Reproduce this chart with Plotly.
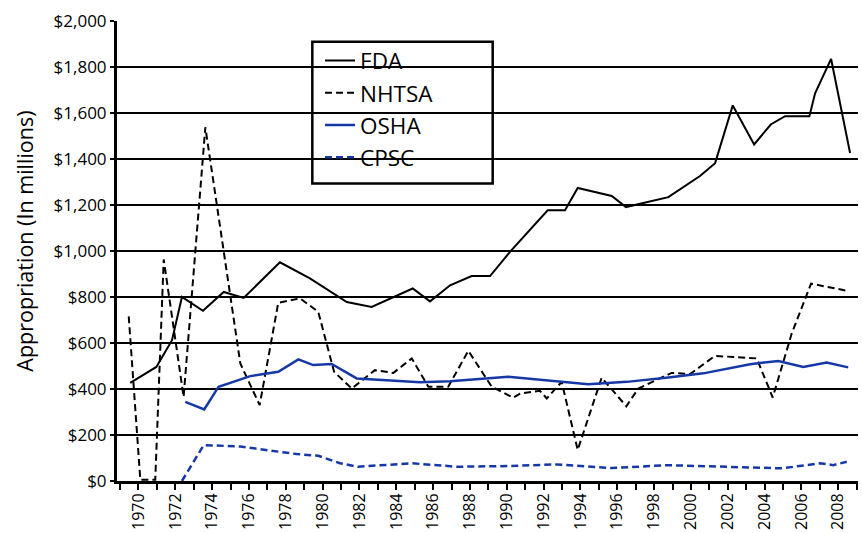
import plotly.graph_objects as go

# Data (x as fractional years, values in $ millions)
fda_x = [1969.55, 1970.97, 1971.82, 1972.36, 1973.50, 1974.63, 1975.71, 1977.68, 1979.31,
         1981.31, 1982.66, 1984.89, 1985.83, 1986.92, 1988.09, 1989.09, 1990.17, 1992.22,
         1993.16, 1993.85, 1995.70, 1996.47, 1998.77, 2000.49, 2001.31, 2002.27, 2003.43,
         2004.33, 2005.11, 2006.43, 2006.74, 2007.61, 2008.64]
fda_y = [427, 496, 612, 800, 740, 822, 796, 951, 881,
         778, 757, 837, 781, 851, 891, 891, 996, 1177,
         1177, 1274, 1239, 1191, 1234, 1326, 1382, 1633, 1463,
         1550, 1586, 1586, 1686, 1835, 1426]

nhtsa_x = [1969.47, 1970.10, 1970.91, 1971.37, 1972.45, 1973.63, 1975.53, 1976.58, 1977.59,
           1978.77, 1979.76, 1980.62, 1981.58, 1982.84, 1983.84, 1984.84, 1985.74, 1986.82,
           1987.91, 1989.18, 1990.35, 1990.72, 1991.80, 1992.17, 1992.98, 1993.85, 1995.15,
           1996.49, 1997.14, 1998.95, 1999.95, 2001.30, 2003.57, 2004.44, 2005.47, 2006.52,
           2008.54]
nhtsa_y = [716, 5, 5, 963, 366, 1538, 511, 330, 775,
           794, 736, 475, 402, 482, 470, 533, 410, 410,
           566, 410, 362, 380, 392, 359, 431, 135, 449,
           325, 402, 470, 465, 544, 533, 363, 641, 858,
           826]

osha_x = [1972.54, 1973.57, 1974.35, 1976.07, 1977.59, 1978.68, 1979.49, 1980.49, 1981.85,
          1985.29, 1986.92, 1990.08, 1994.42, 1996.51, 1998.77, 2000.67, 2003.21, 2004.74,
          2006.10, 2007.37, 2008.54]
osha_y = [344, 311, 410, 456, 475, 529, 504, 509, 446,
          429, 434, 453, 421, 431, 450, 468, 508, 522,
          496, 515, 494]

cpsc_x = [1972.36, 1973.54, 1975.53, 1977.68, 1978.59, 1979.76, 1980.94, 1981.92, 1984.84,
          1987.28, 1989.99, 1992.71, 1995.70, 1998.68, 2002.67, 2004.93, 2007.01, 2007.73,
          2008.46]
cpsc_y = [0, 156, 150, 128, 117, 110, 77, 62, 77,
          62, 65, 72, 56, 69, 62, 55, 77, 69,
          84]

year_ticks = list(range(1970, 2009, 2))
y_ticks = list(range(0, 2001, 200))

BLUE = "#1538a6"
FONT = "Open Sans"

fig = go.Figure()
fig.add_trace(go.Scatter(x=fda_x, y=fda_y, name="FDA", mode="lines",
                         line=dict(color="black", width=2), legendgroup="a"))
fig.add_trace(go.Scatter(x=nhtsa_x, y=nhtsa_y, name="NHTSA", mode="lines",
                         line=dict(color="black", width=2, dash="7px,4px"), legendgroup="b"))
fig.add_trace(go.Scatter(x=osha_x, y=osha_y, name="OSHA", mode="lines",
                         line=dict(color=BLUE, width=2.5), legendgroup="c"))
fig.add_trace(go.Scatter(x=cpsc_x, y=cpsc_y, name="CPSC", mode="lines",
                         line=dict(color=BLUE, width=2.5, dash="7px,4px"), legendgroup="d"))

fig.update_layout(
    width=862, height=533,
    margin=dict(l=117, r=4, t=21, b=52),
    paper_bgcolor="white", plot_bgcolor="white",
    font=dict(family=FONT, color="black", size=17),
    showlegend=True,
    legend=dict(x=0.2740, y=0.9600, xanchor="left", yanchor="top",
                font=dict(size=22.5, family=FONT, color="black"),
                bgcolor="rgba(0,0,0,0)", borderwidth=0, tracegroupgap=0,
                itemwidth=30),
    shapes=[dict(type="rect", xref="paper", yref="paper",
                 x0=0.2636, x1=0.507, y0=0.647, y1=0.955,
                 line=dict(color="black", width=2.5), fillcolor="white",
                 layer="between")],
    annotations=[dict(text="Appropriation (In millions)", xref="paper", yref="paper",
                      x=-0.1245, y=0.522, xanchor="center", yanchor="middle",
                      textangle=-90, showarrow=False,
                      font=dict(size=21.5, family=FONT, color="black"))],
)

fig.update_xaxes(
    range=[1968.833, 2009.07], tickmode="array", tickvals=year_ticks,
    ticktext=[str(v) for v in year_ticks], tickangle=-90,
    ticks="outside", ticklen=6, tickwidth=2, tickcolor="black",
    minor=dict(dtick=1, tick0=1970, ticks="outside", ticklen=6, tickwidth=2, tickcolor="black"),
    showgrid=False, zeroline=False, showline=True, linecolor="black", linewidth=3,
    tickfont=dict(size=16, family=FONT), automargin=False, ticklabelstandoff=-3,
)
fig.update_yaxes(
    range=[0, 2000], tickmode="array", tickvals=y_ticks,
    ticktext=["$" + format(v, ",") for v in y_ticks],
    ticks="outside", ticklen=4, tickwidth=2, tickcolor="black",
    showgrid=True, gridcolor="black", gridwidth=2, zeroline=False,
    showline=True, linecolor="black", linewidth=3,
    tickfont=dict(size=17, family=FONT), automargin=False,
)

fig.write_html("out.html", config={"displayModeBar": False},
               post_script="document.body.style.margin='0';document.body.style.overflow='hidden';")
